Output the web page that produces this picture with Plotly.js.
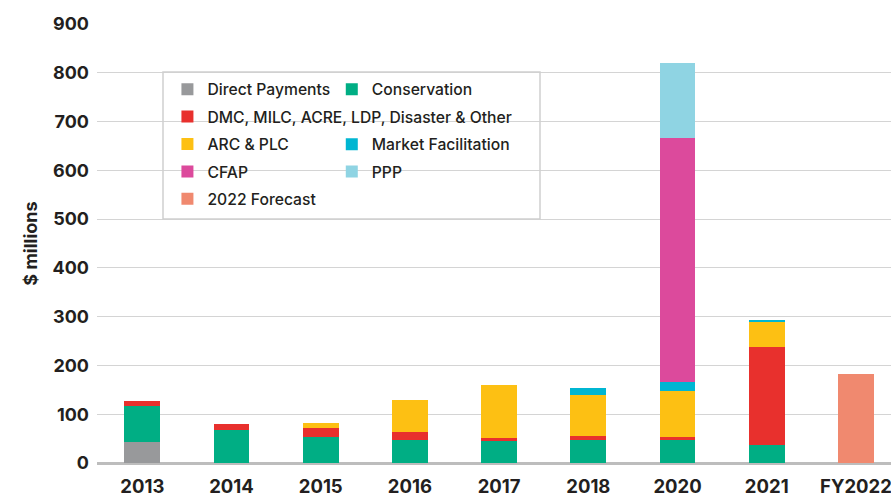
<!DOCTYPE html>
<html>
<head>
<meta charset="utf-8">
<script src="https://cdn.plot.ly/plotly-3.0.1.min.js"></script>
<style>html,body{margin:0;padding:0;background:#fff;}#chart{width:891px;height:497px;}</style>
</head>
<body>
<div id="chart"></div>
<script>
const categories = ['2013','2014','2015','2016','2017','2018','2020','2021','FY2022'];
const directPayments     = [44, 0, 0, 0, 0, 0, 0, 0, 0];
const conservation       = [73, 68, 53, 46.5, 45, 47, 47, 36, 0];
const dmcOther           = [10, 12.5, 19, 17.5, 7, 8.5, 7, 202, 0];
const arcPlc             = [0, 0, 11, 64.5, 108.5, 83.5, 94, 52.5, 0];
const marketFacilitation = [0, 0, 0, 0, 0, 15.5, 18.5, 1.5, 0];
const cfap               = [0, 0, 0, 0, 0, 0, 500.5, 0, 0];
const ppp                = [0, 0, 0, 0, 0, 0, 153, 0, 0];
const forecast2022       = [0, 0, 0, 0, 0, 0, 0, 0, 182.5];
const yTicks = [0,100,200,300,400,500,600,700,800,900];

const series = [
  {name:'Direct Payments', y:directPayments, color:'#98999b', legend:'legend'},
  {name:'Conservation', y:conservation, color:'#00ae84', legend:'legend2'},
  {name:'DMC, MILC, ACRE, LDP, Disaster & Other', y:dmcOther, color:'#e8302d', legend:'legend'},
  {name:'ARC & PLC', y:arcPlc, color:'#fdc013', legend:'legend'},
  {name:'Market Facilitation', y:marketFacilitation, color:'#00b6d2', legend:'legend3'},
  {name:'CFAP', y:cfap, color:'#dc4a9c', legend:'legend'},
  {name:'PPP', y:ppp, color:'#8fd4e3', legend:'legend3'},
  {name:'2022 Forecast', y:forecast2022, color:'#f0896f', legend:'legend'}
];

const data = series.map((s, i) => ({
  type:'bar', x:categories, y:s.y, name:s.name,
  marker:{color:s.color, line:{width:0}},
  width:0.40, legend:s.legend, legendgroup:'g'+i, hoverinfo:'x+y+name'
}));

const legendFont = {family:'Inter, "Liberation Sans", sans-serif', size:15.7, color:'#231f20', weight:500};
const legendBase = {orientation:'v', bgcolor:'rgba(0,0,0,0)', borderwidth:0, font:legendFont,
  tracegroupgap:4, xanchor:'left', yanchor:'top', traceorder:'grouped'};

const dx = -5/794, dy = 2/439;
const layout = {
  width:891, height:497,
  margin:{l:97, r:0, t:24, b:34, pad:0},
  paper_bgcolor:'#ffffff', plot_bgcolor:'#ffffff',
  barmode:'stack',
  showlegend:true,
  font:{family:'Inter, "Liberation Sans", sans-serif', color:'#231f20'},
  xaxis:{
    type:'category', range:[-0.508, 8.393], showgrid:false, zeroline:false,
    showline:false, ticks:'', ticklabelstandoff:10,
    tickfont:{family:'Inter, "Liberation Sans", sans-serif', size:18.5, weight:700, color:'#231f20'}
  },
  yaxis:{
    range:[0, 900], tickvals:yTicks, ticktext:yTicks.map(String),
    showgrid:true, gridcolor:'#d4d4d4', gridwidth:1,
    zeroline:true, zerolinecolor:'#bdbdbd', zerolinewidth:2.5,
    showline:false, ticks:'', ticklabelstandoff:7,
    tickfont:{family:'Inter, "Liberation Sans", sans-serif', size:18, weight:700, color:'#231f20'},
    title:{text:'$ millions', standoff:10, font:{family:'Inter, "Liberation Sans", sans-serif', size:18, weight:700, color:'#231f20'}}
  },
  legend:Object.assign({}, legendBase, {x:0.095 + dx, y:0.885 + dy}),
  legend2:Object.assign({}, legendBase, {x:0.302 + dx, y:0.885 + dy}),
  legend3:Object.assign({}, legendBase, {x:0.302 + dx, y:0.885 + dy - 55/439}),
  shapes:[{type:'rect', xref:'paper', yref:'paper', x0:66/794, x1:443/794, y0:(463-219)/439, y1:(463-72)/439,
    line:{color:'#cfcfcf', width:1.5}, fillcolor:'rgba(0,0,0,0)', layer:'above'}]
};

Plotly.newPlot('chart', data, layout, {displayModeBar:false, responsive:false});
</script>
</body>
</html>
